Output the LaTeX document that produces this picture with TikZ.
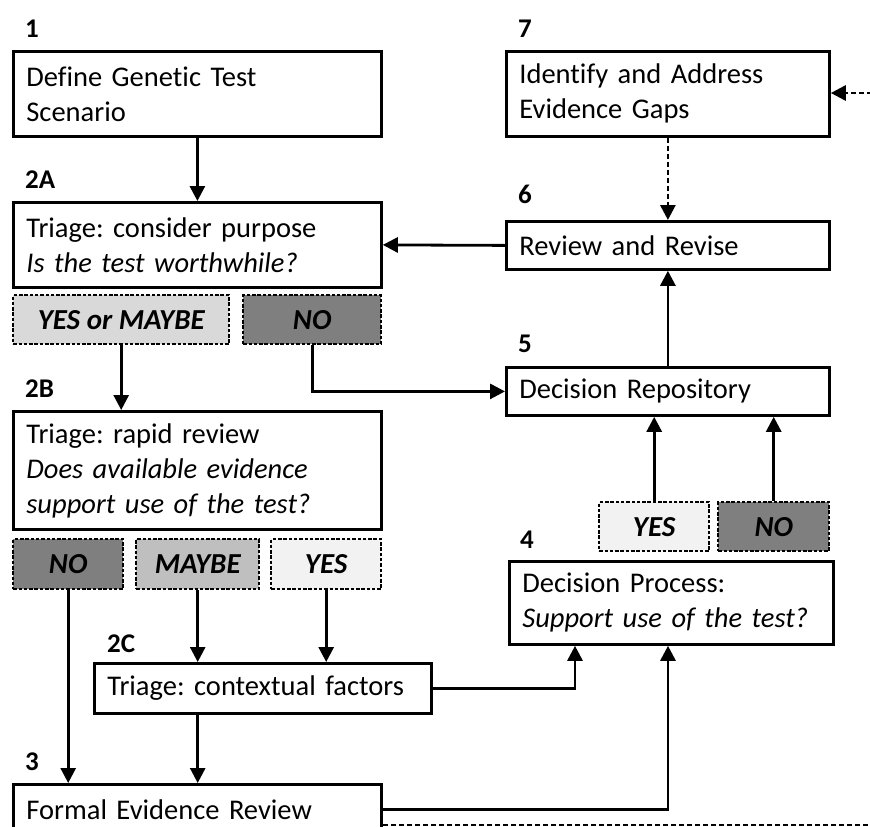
\documentclass[tikz,border=0pt]{standalone}
\usepackage{fontspec}
\setmainfont{Carlito}[Ligatures=NoCommon]
\usetikzlibrary{arrows.meta}
\definecolor{gDark}{HTML}{7F7F7F}
\definecolor{gMid}{HTML}{BFBFBF}
\definecolor{gLight}{HTML}{D9D9D9}
\definecolor{gPale}{HTML}{F2F2F2}
\frenchspacing
\begin{document}
\begin{tikzpicture}[x=1pt,y=-1pt,
  box/.style={draw, line width=2.8pt, fill=white, align=left, anchor=north west,
    inner xsep=13pt, inner ysep=0pt, font=\fontsize{28.5}{35}\selectfont},
  ans/.style={draw, line width=2.4pt, dash pattern=on 3.5pt off 1.8pt, anchor=north west,
    inner sep=0pt, font=\fontsize{29}{30}\selectfont\bfseries\itshape},
  num/.style={anchor=base west, inner sep=0pt, font=\fontsize{27}{28}\selectfont\bfseries},
  arr/.style={line width=2.8pt, -{Triangle[length=15pt,width=15pt]}},
  darr/.style={arr, dash pattern=on 5pt off 3pt}]
\useasboundingbox (0,0) rectangle (870,827);
\clip (0,0) rectangle (870,827);
\fill[white] (0,0) rectangle (870,827);
% boxes
\node[box, text width=342pt, minimum height=85pt] (b1) at (12,50) {Define Genetic Test\\Scenario};
\node[box, text width=342pt, minimum height=85pt] (b2a) at (12,201) {Triage: consider purpose\\\textit{Is the test worthwhile?}};
\node[box, text width=342pt, minimum height=118pt] (b2b) at (12,410) {Triage: rapid review\\\textit{Does available evidence}\\\textit{support use of the test?}};
\node[box, text width=311pt, minimum height=50pt] (b2c) at (93,662) {Triage: contextual factors};
\node[box, text width=342pt, minimum height=50pt] (b3) at (12,783) {Formal Evidence Review};
\node[box, text width=298pt, minimum height=83pt] (b4) at (508,560) {Decision Process:\\\textit{Support use of the test?}};
\node[box, text width=297pt, minimum height=48pt] (b5) at (505,366) {Decision Repository};
\node[box, text width=297pt, minimum height=48pt] (b6) at (505,220) {Review and Revise};
\node[box, text width=297pt, minimum height=85pt] (b7) at (505,50) {Identify and Address\\Evidence Gaps};
% answer boxes
\node[ans, fill=gLight, minimum width=216pt, minimum height=49pt] (a1) at (12,294) {YES or MAYBE};
\node[ans, fill=gDark, minimum width=138pt, minimum height=49pt] (a2) at (242,294) {NO};
\node[ans, fill=gDark, minimum width=110pt, minimum height=50pt] (a3) at (12,538) {NO};
\node[ans, fill=gMid, minimum width=123pt, minimum height=50pt] (a4) at (135,538) {MAYBE};
\node[ans, fill=gPale, minimum width=110pt, minimum height=50pt] (a5) at (270,538) {YES};
\node[ans, fill=gPale, minimum width=110pt, minimum height=49pt] (a6) at (598,501) {YES};
\node[ans, fill=gDark, minimum width=111pt, minimum height=49pt] (a7) at (717,501) {NO};
% numbers
\node[num] (n1) at (25,37) {1};
\node[num] (n2a) at (25,188) {2A};
\node[num] (n2b) at (25,397) {2B};
\node[num] (n2c) at (107,652) {2C};
\node[num] (n3) at (25,770) {3};
\node[num] (n4) at (520,548) {4};
\node[num] (n5) at (518,352) {5};
\node[num] (n6) at (518,203) {6};
\node[num] (n7) at (518,37) {7};
% helper coordinates
\coordinate (in4a) at ([xshift=67pt]b4.south west);
\coordinate (in4b) at ([xshift=160pt]b4.south west);
\coordinate (loopTop) at (872,93);
\coordinate (loopBot) at (872,825);
% connectors
\draw[arr] (b1.south) -- (b2a.north);
\draw[arr] (a1.south) -- (a1.south |- b2b.north);
\draw[arr] (a2.south) |- (b5.west);
\draw[arr] (a3.south) -- (a3.south |- b3.north);
\draw[arr] (a4.south) -- (a4.south |- b2c.north);
\draw[arr] (a5.south) -- (a5.south |- b2c.north);
\draw[arr] (a4.south |- b2c.south) -- (a4.south |- b3.north);
\draw[arr] (b2c.east) -| (in4a);
\draw[arr] (b3.east) -| (in4b);
\draw[arr] (a6.north) -- (a6.north |- b5.south);
\draw[arr] (a7.north) -- (a7.north |- b5.south);
\draw[arr] (b5.north) -- (b6.south);
\draw[arr] (b6.west) -- (b2a.east);
\draw[darr] (b7.south) -- (b6.north);
\draw[darr] (loopTop) -- (b7.east |- loopTop);
\draw[line width=2.8pt, dash pattern=on 5pt off 3pt] (b3.east |- loopBot) -- (loopBot);
\end{tikzpicture}
\end{document}
